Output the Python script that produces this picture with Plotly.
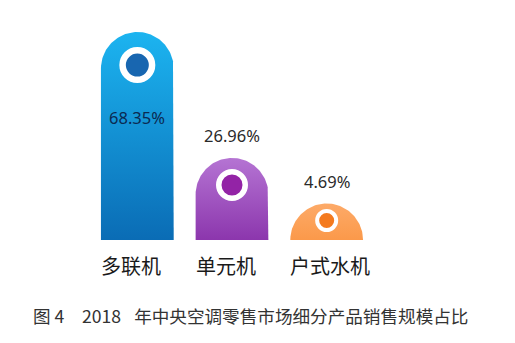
import numpy as np
import plotly.graph_objects as go

# ---- data ----
categories = ["多联机", "单元机", "户式水机"]
shares = [68.35, 26.96, 4.69]
value_labels = ["68.35%", "26.96%", "4.69%"]
caption = "图 4　2018\u2002\u2005年中央空调零售市场细分产品销售规模占比"

# ---- style ----
top_colors = ["#1cb4f0", "#b574d3", "#fdaa68"]
bottom_colors = ["#0a6cb5", "#8c36ad", "#fb994a"]
dot_colors = ["#1866b0", "#9323a6", "#f47a1e"]
ring_outer = [36, 32, 23]
ring_thick = [6.5, 5.5, 4]
ring_offset = [33, 27, 17]  # px below top of bar
label_colors = ["#0b2a52", "#2a2a2a", "#2a2a2a"]

W, H = 515, 343
ml, mr, mt, mb = 89.5, 140.5, 20, 103
plot_w = W - ml - mr
plot_h = H - mt - mb
xr = [-0.5, 2.5]
ymax = 72.3
px_x = plot_w / (xr[1] - xr[0])
px_y = plot_h / ymax
bar_w_px = 73
hw = bar_w_px / 2 / px_x
r_px = bar_w_px / 2
r_y = r_px / px_y

fig = go.Figure()
t = np.linspace(0, np.pi, 80)
tops = []
for i, v in enumerate(shares):
    top = max(v, r_y)
    tops.append(top)
    cy = top - r_y
    xs = [i + hw, i + hw] + list(i + hw * np.cos(t)) + [i - hw, i - hw, i + hw]
    ys = [0, cy] + list(cy + r_y * np.sin(t)) + [cy, 0, 0]
    fig.add_trace(go.Scatter(
        x=xs, y=ys, mode="lines", line=dict(width=0), fill="toself",
        fillgradient=dict(type="vertical", start=0, stop=top,
                          colorscale=[[0, bottom_colors[i]], [1, top_colors[i]]]),
        hoverinfo="skip", showlegend=False))

for i, v in enumerate(shares):
    fig.add_trace(go.Scatter(
        x=[i], y=[tops[i] - ring_offset[i] / px_y], mode="markers",
        marker=dict(size=ring_outer[i] - ring_thick[i], color=dot_colors[i],
                    line=dict(color="white", width=ring_thick[i])),
        hoverinfo="skip", showlegend=False, cliponaxis=False))

annotations = []
for i, v in enumerate(shares):
    if v > 50:
        ys = -85
    else:
        ys = 22
    annotations.append(dict(x=i, y=tops[i], xref="x", yref="y", text=value_labels[i],
                            showarrow=False, yshift=ys, yanchor="middle",
                            font=dict(family="Noto Sans", size=16.5, color=label_colors[i])))
    annotations.append(dict(x=i - hw, y=0, xref="x", yref="y", text=categories[i],
                            showarrow=False, xanchor="left", yanchor="middle", yshift=-25,
                            xshift=-2,
                            font=dict(family="Noto Sans CJK SC", size=20, color="#1a1a1a")))

annotations.append(dict(x=(30 - ml) / plot_w, y=0, xref="paper", yref="paper",
                        text=caption, showarrow=False, xanchor="left", yanchor="middle",
                        yshift=-75,
                        font=dict(family="Noto Sans CJK SC", size=17.6, color="#333333")))

fig.update_layout(
    width=W, height=H, margin=dict(l=ml, r=mr, t=mt, b=mb),
    paper_bgcolor="white", plot_bgcolor="white",
    xaxis=dict(range=xr, visible=False, fixedrange=True),
    yaxis=dict(range=[0, ymax], visible=False, fixedrange=True),
    annotations=annotations, showlegend=False,
)
fig.write_html("out.html")
